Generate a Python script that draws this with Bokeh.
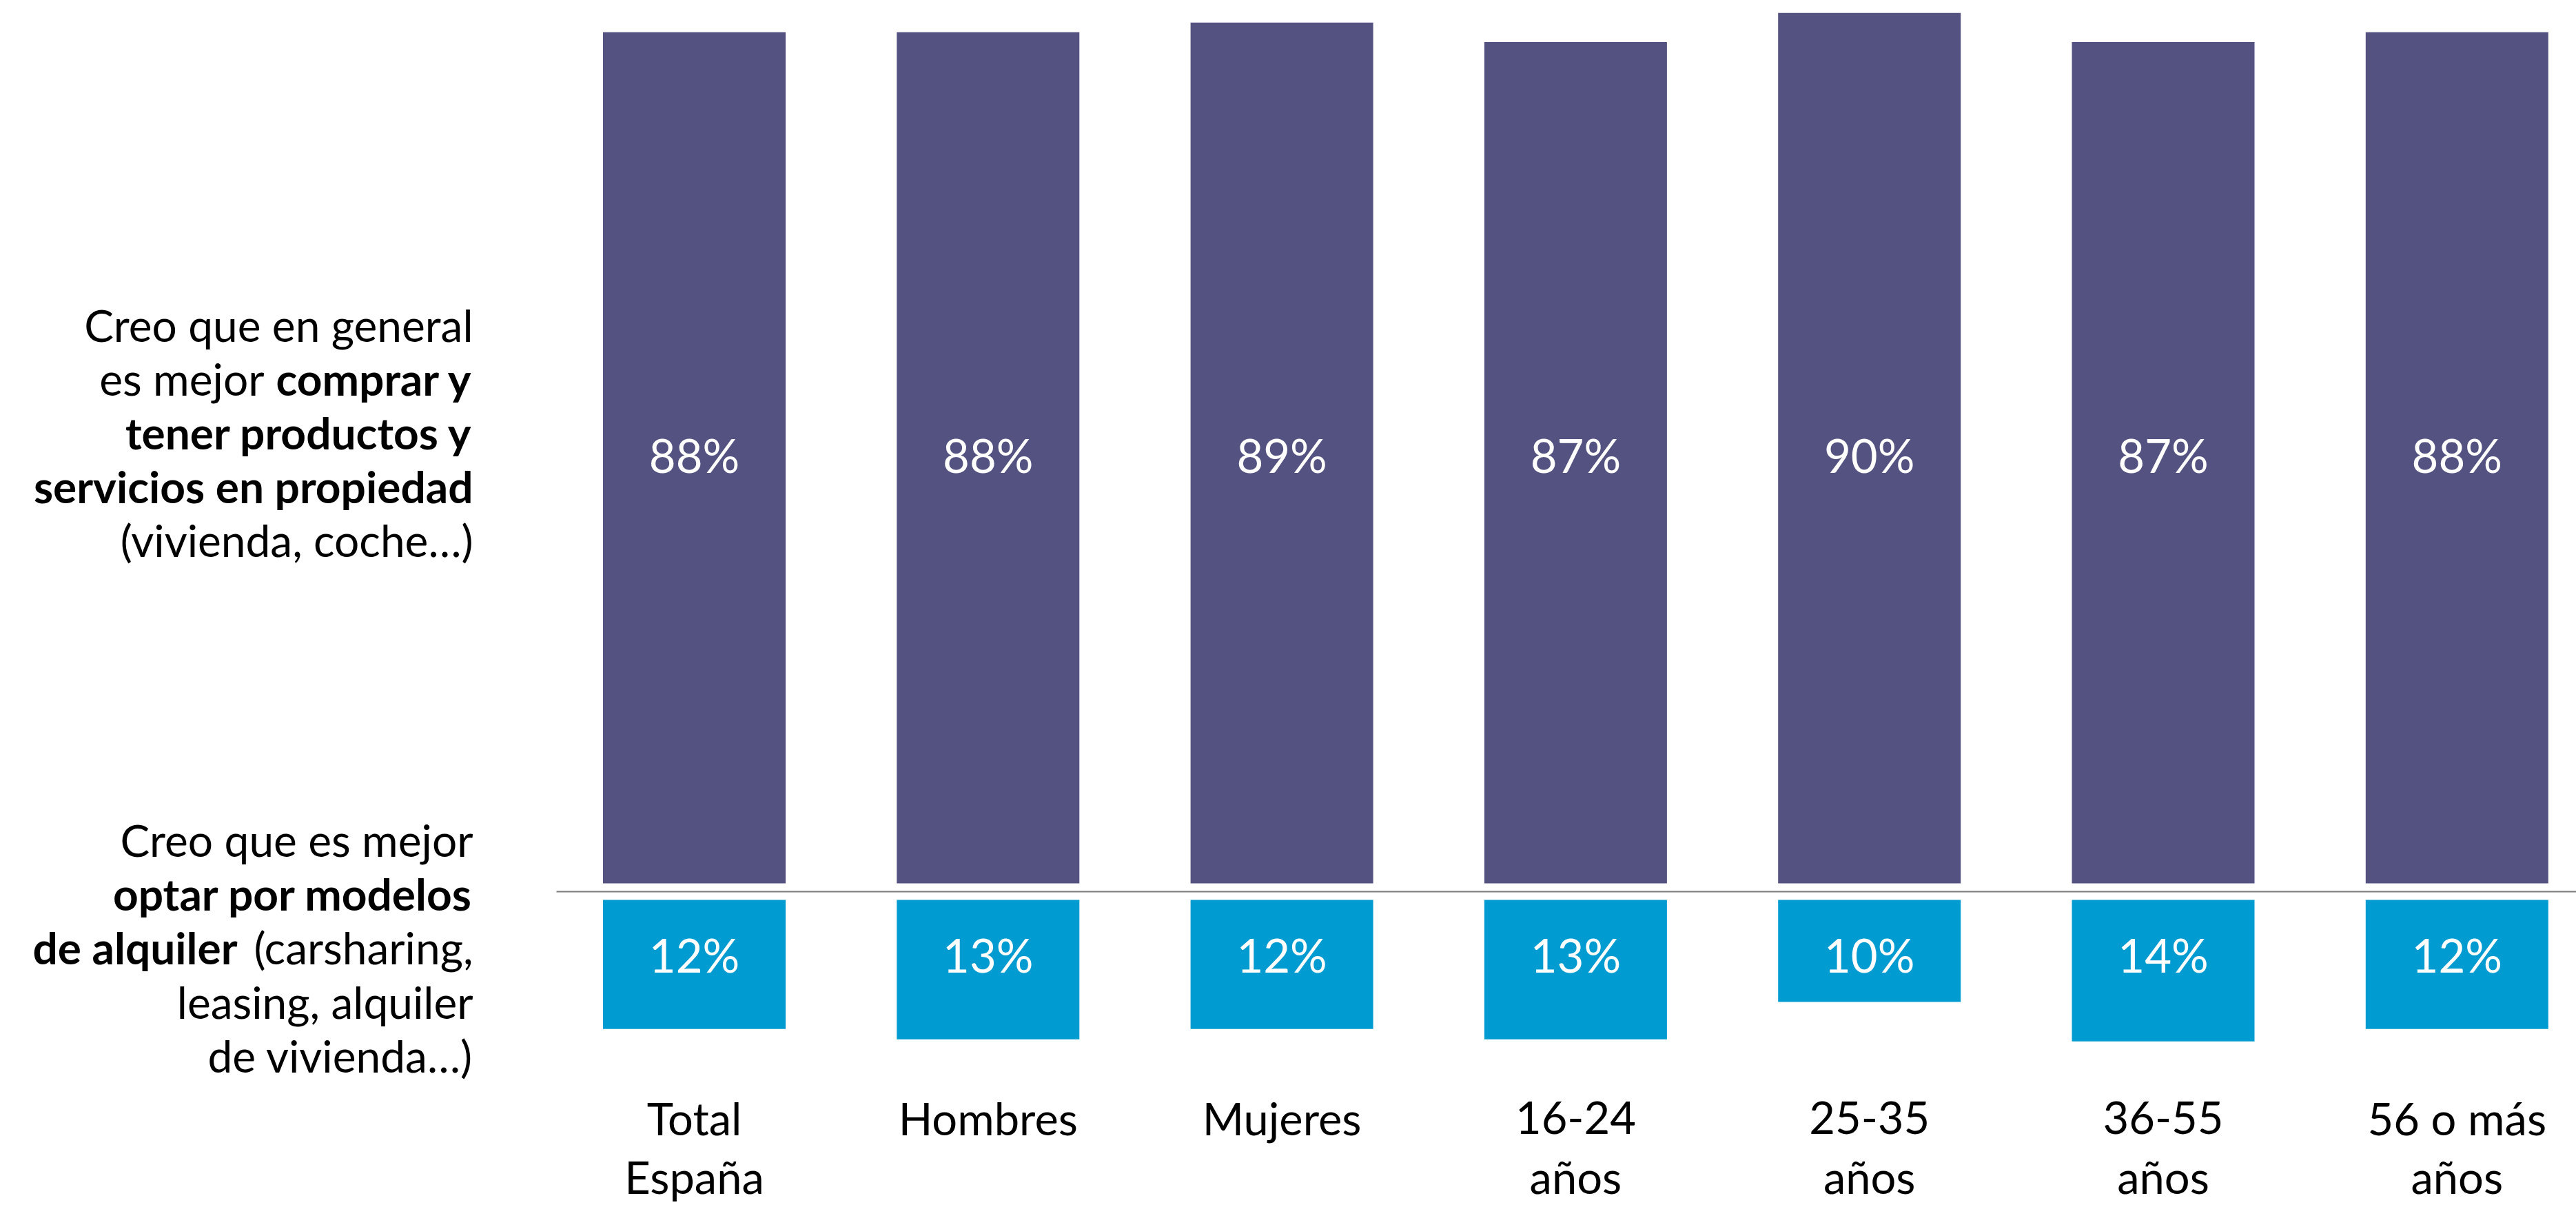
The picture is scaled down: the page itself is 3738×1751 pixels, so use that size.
from bokeh.plotting import figure
from bokeh.models import Range1d, ColumnDataSource
from bokeh.core.properties import value
from bokeh.embed import file_html
from bokeh.resources import INLINE

# ---------------- data ----------------
cat_line1 = ["Total", "Hombres", "Mujeres", "16-24", "25-35", "36-55", "56 o más"]
cat_line2 = ["España", "", "", "años", "años", "años", "años"]
comprar = [88, 88, 89, 87, 90, 87, 88]
alquiler = [12.4, 13.4, 12.4, 13.4, 9.8, 13.6, 12.4]

# ---------------- layout constants ----------------
W, H = 3738, 1751
FONT = "Lato"
FS_LEFT = 64
FS_CAT = 65
FS_PCT = 67
BASE_SHIFT = 0.41  # em correction for the renderer's alphabetic baseline
DARK = "#545281"
LIGHT = "#009BD1"

PXX = 426.3      # px per category step
X0 = 1007.0      # px of first category centre
DY = 14.03       # px per % (top panel)
B = H - 1281     # px from bottom of top-panel baseline
LY = 15.1        # px per % (bottom panel)
LB = H - 1305    # px from bottom of bottom-panel top edge
BAR_W = 265 / PXX


def fx(px):
    return (px - X0) / PXX


def fy(py, fs=0):
    # screen px (from top) of a text baseline -> y data of the top panel
    py = py - BASE_SHIFT * fs
    return (H - py - B) / DY


p = figure(width=W, height=H, output_backend="svg", toolbar_location=None,
           x_axis_location=None, y_axis_location=None, min_border=0,
           x_range=Range1d(-X0 / PXX, (W - X0) / PXX),
           y_range=Range1d(-B / DY, (H - B) / DY))
p.extra_y_ranges = {"light": Range1d(-LB / LY, (H - LB) / LY)}
p.outline_line_color = None
p.xgrid.visible = False
p.ygrid.visible = False
p.background_fill_color = "white"

xs = list(range(len(cat_line1)))
n = len(xs)
src = ColumnDataSource(dict(
    x=xs,
    comprar=comprar,
    alq_top=[0] * n,
    alq_bot=[-v for v in alquiler],
    lab_c=[f"{v}%" for v in comprar],
    lab_a=[f"{round(v)}%" for v in alquiler],
    c1=cat_line1,
    c2=cat_line2,
    yc=[fy(687, FS_PCT)] * n,
    ya=[fy(1412, FS_PCT)] * n,
    y1=[fy(1648, FS_CAT)] * n,
    y2=[fy(1733, FS_CAT)] * n,
))

p.vbar(x="x", top="comprar", bottom=0, width=BAR_W, source=src,
       fill_color=DARK, line_color=None)
p.vbar(x="x", top="alq_top", bottom="alq_bot", width=BAR_W, source=src,
       fill_color=LIGHT, line_color=None, y_range_name="light")

# separator line
p.segment(x0=fx(807), x1=(W - X0) / PXX, y0=fy(1293), y1=fy(1293),
          line_color="#7a7a7a", line_width=2)

def common(fs):
    return dict(text_font=value(FONT), text_font_size=f"{fs}px",
                text_align="center", text_baseline="alphabetic", source=src)

p.text(x="x", y="yc", text="lab_c", text_color="white", **common(FS_PCT))
p.text(x="x", y="ya", text="lab_a", text_color="white", **common(FS_PCT))
p.text(x="x", y="y1", text="c1", text_color="black", **common(FS_CAT))
p.text(x="x", y="y2", text="c2", text_color="black", **common(FS_CAT))

# left side labels: (text, x_px, y_px, bold) -- all right aligned
RIGHT = 686
left_items = [
    ("Creo que en general", RIGHT, 497, False),
    ("es mejor", 383, 575, False),
    ("comprar y", RIGHT, 575, True),
    ("tener productos y", RIGHT, 653, True),
    ("servicios en propiedad", RIGHT, 731, True),
    ("(vivienda, coche…)", RIGHT, 809, False),
    ("Creo que es mejor", RIGHT, 1244, False),
    ("optar por modelos", RIGHT, 1322, True),
    ("de alquiler", 344, 1400, True),
    ("(carsharing,", RIGHT, 1400, False),
    ("leasing, alquiler", RIGHT, 1479, False),
    ("de vivienda…)", RIGHT, 1557, False),
]
for txt, xp, yp, bold in left_items:
    p.text(x=[fx(xp)], y=[fy(yp, FS_LEFT)], text=[txt], text_font=value(FONT),
           text_font_size=f"{FS_LEFT}px", text_align="right",
           text_baseline="alphabetic", text_color="black",
           text_font_style="bold" if bold else "normal")

open("out.html", "w").write(file_html(p, INLINE))
